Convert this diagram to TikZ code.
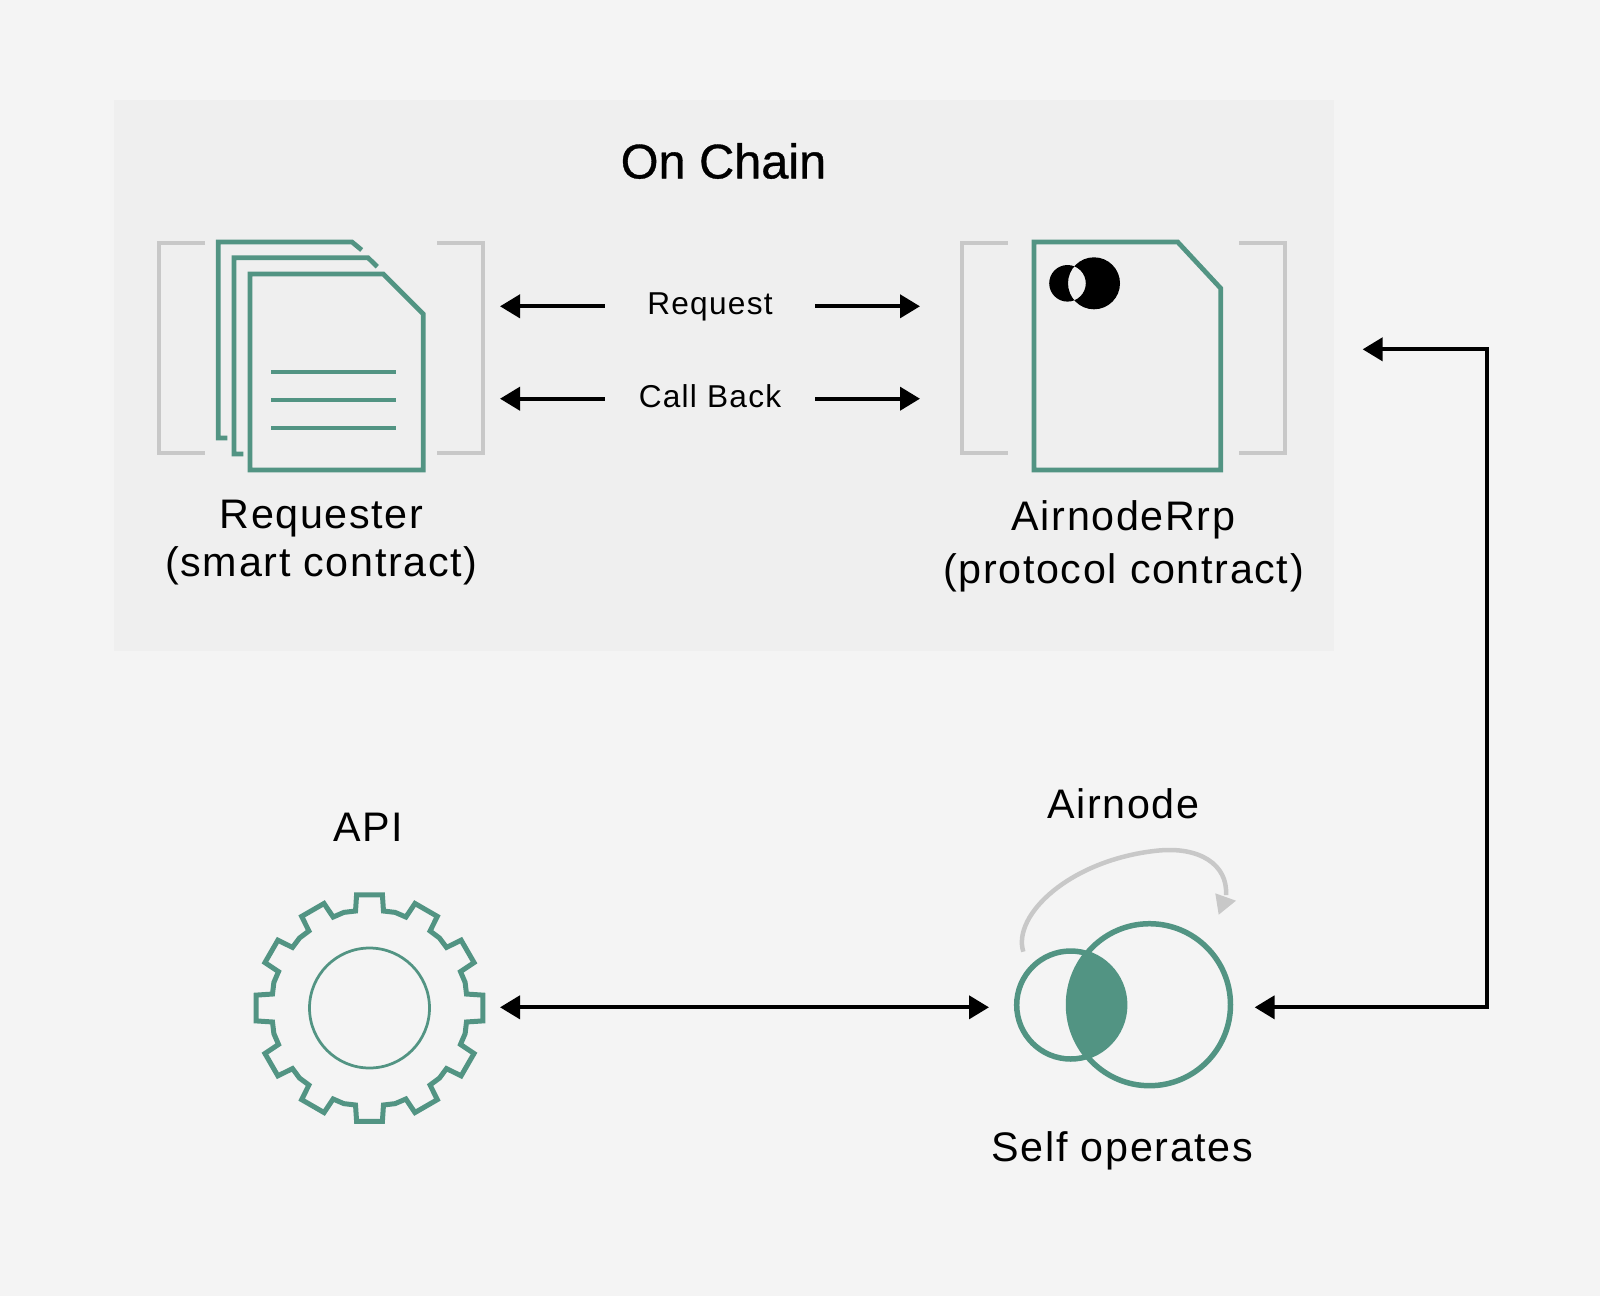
\documentclass[tikz,border=0pt]{standalone}
\usepackage{fontspec}
\setmainfont[LetterSpace=4]{Liberation Sans}
\newfontfamily\titlefont[FakeBold=0.7]{Liberation Sans}
\usetikzlibrary{arrows.meta}
\definecolor{pagebg}{HTML}{F4F4F4}
\definecolor{panelbg}{HTML}{EFEFEF}
\definecolor{tealline}{HTML}{529483}
\definecolor{greyline}{HTML}{C8C8C8}
\tikzset{
    tealstroke/.style={draw=tealline, line width=0.095cm},
    bracketline/.style={draw=greyline, line width=0.08cm},
    link/.style={line width=0.08cm, arrows={-Triangle[length=0.4cm,width=0.46cm]}},
    twolink/.style={line width=0.08cm, arrows={Triangle[length=0.4cm,width=0.46cm]-Triangle[length=0.4cm,width=0.46cm]}},
    iconbox/.style={inner sep=0pt, minimum height=1cm},
    arrowlabel/.style={font=\fontsize{18}{21}\selectfont, minimum width=4.2cm, inner sep=0pt, text height=0.34cm, text depth=0pt},
    biglabel/.style={font=\fontsize{23.5}{27}\selectfont, align=center, inner sep=0pt},
}
\begin{document}
\begin{tikzpicture}[x=0.02cm,y=-0.02cm]

                %Page and on-chain panel
                \useasboundingbox (0,0) rectangle (1600,1296);
                \fill[pagebg] (0,0) rectangle (1600,1296);
                \fill[panelbg] (114,100) rectangle (1334,651);
                \node[font=\titlefont\fontsize{27.7}{32}\selectfont, inner sep=0pt] (onchain) at (723.5,161) {On Chain};

                %Grey brackets
                \foreach \xa/\xb in {205/159,437/483,1007.7/961.7,1239.3/1285.3}
                \draw[bracketline] (\xa,243.3) -- (\xb,243.3) -- (\xb,453.3) -- (\xa,453.3);

                %Requester pages
                \draw[tealstroke] (227.3,438) -- (218.3,438) -- (218.3,242) -- (352,242) -- (361.7,250);
                \draw[tealstroke] (243.3,454) -- (234,454) -- (234,257.7) -- (368,257.7) -- (377.3,266.7);
                \draw[tealstroke] (250,274) -- (383.3,274) -- (423.3,314) -- (423.3,470) -- (250,470) -- cycle;
                \foreach \y in {372,400,428}
                \draw[tealstroke] (271,\y) -- (395.7,\y);

                %AirnodeRrp page
                \draw[tealstroke] (1034,242) -- (1177.7,242) -- (1220.7,288.3) -- (1220.7,470) -- (1034,470) -- cycle;
                \fill[even odd rule] (1094,283.3) circle [radius=26] (1067.5,283.3) circle [radius=18.3];

                %Gear
                \begin{scope}[shift={(369.5,1008)}]
                    \draw[draw=tealline, line width=0.1cm] (-15:99)
                        \foreach \a in {0,30,...,330} { -- ({\a-8.2}:98) -- ({\a-6.5}:114) -- ({\a+6.5}:114) -- ({\a+8.2}:98) -- ({\a+15}:99) } -- cycle;
                    \draw[draw=tealline, line width=0.055cm] (0,0) circle [radius=60];
                \end{scope}

                %Airnode circles
                \begin{scope}
                    \clip (1070.7,1005) circle [radius=55];
                    \fill[tealline] (1149.5,1004.7) circle [radius=82];
                \end{scope}
                \draw[draw=tealline, line width=0.11cm] (1070.7,1005) circle [radius=54];
                \draw[draw=tealline, line width=0.11cm] (1149.5,1004.7) circle [radius=81];

                %Self loop
                \draw[draw=greyline, line width=0.09cm] (1023.3,951.7) .. controls (1012,915) and (1070,860) .. (1156.7,850.7) .. controls (1200,846) and (1228,865) .. (1226,895);
                \fill[greyline] (1215.3,893.3) -- (1236,900.7) -- (1218.7,914.7) -- cycle;

                %Labels
                \node[biglabel] (requesterlabel) at (321.4,542.5) {Requester\\[0pt](smart contract)};
                \node[biglabel] (airnoderrplabel) at (1123.5,546) {AirnodeRrp\\[3pt](protocol contract)};
                \node[biglabel] (apilabel) at (368.4,827.6) {API};
                \node[biglabel] (airnodelabel) at (1123.5,804) {Airnode};
                \node[biglabel] (selfoperates) at (1122.5,1151) {Self operates};

                %Invisible boxes the connectors end at
                \node[iconbox, minimum width=6cm, anchor=east] (requester) at (500,352) {};
                \node[iconbox, minimum width=8.86cm, anchor=west] (airnoderrp) at (919,349.3) {};
                \node[iconbox, minimum width=5.2cm, anchor=east] (apigear) at (500,1007.3) {};
                \node[iconbox, minimum width=5.3cm, anchor=west] (airnode) at (989,1007.3) {};
                \coordinate (turn) at (1487,1007.3);

                %Request and call back arrows
                \node[arrowlabel] (request) at (710,306.3) {Request};
                \node[arrowlabel] (callback) at (710,398.7) {Call Back};
                \foreach \lab in {request,callback} {
                    \draw[link] (\lab.west) -- (requester.east |- \lab.west);
                    \draw[link] (\lab.east) -- ([xshift=0.02cm]airnoderrp.west |- \lab.east);
                }

                %API and chain links
                \draw[twolink] (apigear.east) -- (airnode.west);
                \draw[twolink] (airnode.east) -- (turn) |- (airnoderrp.east);

\end{tikzpicture}
\end{document}
